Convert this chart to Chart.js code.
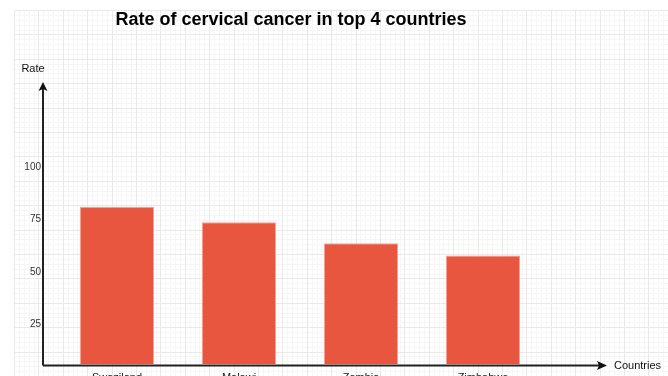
<!DOCTYPE html>
<html>
<head>
<meta charset="utf-8">
<script src="https://cdn.jsdelivr.net/npm/chart.js@4/dist/chart.umd.min.js"></script>
<style>
  html, body { margin: 0; padding: 0; background: #fff; }
  #wrap { width: 668px; height: 376px; position: relative; }
</style>
</head>
<body>
<div id="wrap"><canvas id="rateChart"></canvas></div>
<script>
// chart data
const countries = ["Swaziland", "Malawi", "Zambia", "Zimbabwe"];
const rates = [81, 73.6, 63.6, 57.8];
const rateTicks = [25, 50, 75, 100];

const titleText = "Rate of cervical cancer in top 4 countries";
const yAxisName = "Rate";
const xAxisName = "Countries";

// paper grid behind everything + hand drawn axes with arrows on top
const sketchPlugin = {
  id: "sketch",
  beforeDraw(chart) {
    const { ctx, width, height } = chart;
    ctx.save();
    ctx.fillStyle = "#fff";
    ctx.fillRect(0, 0, width, height);
    const ox = 14, oy = 10, step = 24.4, sub = step / 5;
    // minor lines
    ctx.strokeStyle = "#f6f6f6";
    ctx.lineWidth = 1;
    ctx.beginPath();
    for (let x = ox; x < width; x += sub) { ctx.moveTo(Math.round(x) + 0.5, oy); ctx.lineTo(Math.round(x) + 0.5, height); }
    for (let y = oy; y < height; y += sub) { ctx.moveTo(ox, Math.round(y) + 0.5); ctx.lineTo(width, Math.round(y) + 0.5); }
    ctx.stroke();
    // major lines
    ctx.strokeStyle = "#e9e9e9";
    ctx.beginPath();
    for (let x = ox; x < width; x += step) { ctx.moveTo(Math.round(x) + 0.5, oy); ctx.lineTo(Math.round(x) + 0.5, height); }
    for (let y = oy; y < height; y += step) { ctx.moveTo(ox, Math.round(y) + 0.5); ctx.lineTo(width, Math.round(y) + 0.5); }
    ctx.stroke();
    ctx.restore();
  },
  afterDraw(chart) {
    const { ctx, chartArea } = chart;
    const ax = chartArea.left - 13;      // y axis line
    const ay = chartArea.bottom + 1.5;   // x axis line
    const topY = chartArea.top - 85;
    const rightX = chartArea.right + 63;
    ctx.save();
    ctx.strokeStyle = "#222";
    ctx.fillStyle = "#111";
    ctx.lineWidth = 2;
    ctx.beginPath();
    ctx.moveTo(ax, ay);
    ctx.lineTo(ax, topY + 6);
    ctx.moveTo(ax, ay);
    ctx.lineTo(rightX - 6, ay);
    ctx.stroke();
    // arrow heads
    ctx.beginPath();
    ctx.moveTo(ax, topY);
    ctx.lineTo(ax - 4.5, topY + 9);
    ctx.lineTo(ax, topY + 7);
    ctx.lineTo(ax + 4.5, topY + 9);
    ctx.closePath();
    ctx.fill();
    ctx.beginPath();
    ctx.moveTo(rightX, ay);
    ctx.lineTo(rightX - 10, ay - 4.5);
    ctx.lineTo(rightX - 8, ay);
    ctx.lineTo(rightX - 10, ay + 4.5);
    ctx.closePath();
    ctx.fill();

    // axis names
    ctx.fillStyle = "#111";
    ctx.font = "11px 'Liberation Sans', Arial, sans-serif";
    ctx.textBaseline = "middle";
    ctx.textAlign = "center";
    ctx.fillText(yAxisName, ax - 10, topY - 13);
    ctx.textAlign = "left";
    ctx.fillText(xAxisName, rightX + 7, ay + 0.5);

    // title
    ctx.font = "bold 18px 'Liberation Sans', Arial, sans-serif";
    ctx.textAlign = "center";
    ctx.fillStyle = "#000";
    ctx.fillText(titleText, 291, 20);
    ctx.restore();
  }
};

new Chart(document.getElementById("rateChart"), {
  type: "bar",
  data: {
    labels: countries,
    datasets: [{
      label: "Rate",
      data: rates,
      backgroundColor: "#e8563f",
      borderColor: "#f2a496",
      borderWidth: 1,
      categoryPercentage: 1,
      barPercentage: 0.607
    }]
  },
  options: {
    responsive: true,
    maintainAspectRatio: false,
    animation: false,
    layout: { padding: { top: 167, right: 124, bottom: 0, left: 0 } },
    plugins: {
      legend: { display: false },
      tooltip: { enabled: false },
      title: { display: false }
    },
    scales: {
      x: {
        grid: { display: false, drawTicks: false },
        border: { display: false },
        ticks: {
          padding: 7,
          color: "#222",
          font: { family: "'Liberation Sans', Arial, sans-serif", size: 11 },
          maxRotation: 0
        },
        afterFit(scale) { scale.height = 12; }
      },
      y: {
        min: 6,
        max: 100,
        grid: { display: false, drawTicks: false },
        border: { display: false },
        afterBuildTicks(scale) { scale.ticks = rateTicks.map(v => ({ value: v })); },
        ticks: {
          padding: 15,
          color: "#333",
          font: { family: "'Liberation Sans', Arial, sans-serif", size: 10 }
        },
        afterFit(scale) {
          scale.width = 56;
          // tick padding would otherwise push the axis up from the bottom
          scale.paddingBottom = 0;
          scale.paddingTop = 0;
        }
      }
    }
  },
  plugins: [sketchPlugin]
});
</script>
</body>
</html>
